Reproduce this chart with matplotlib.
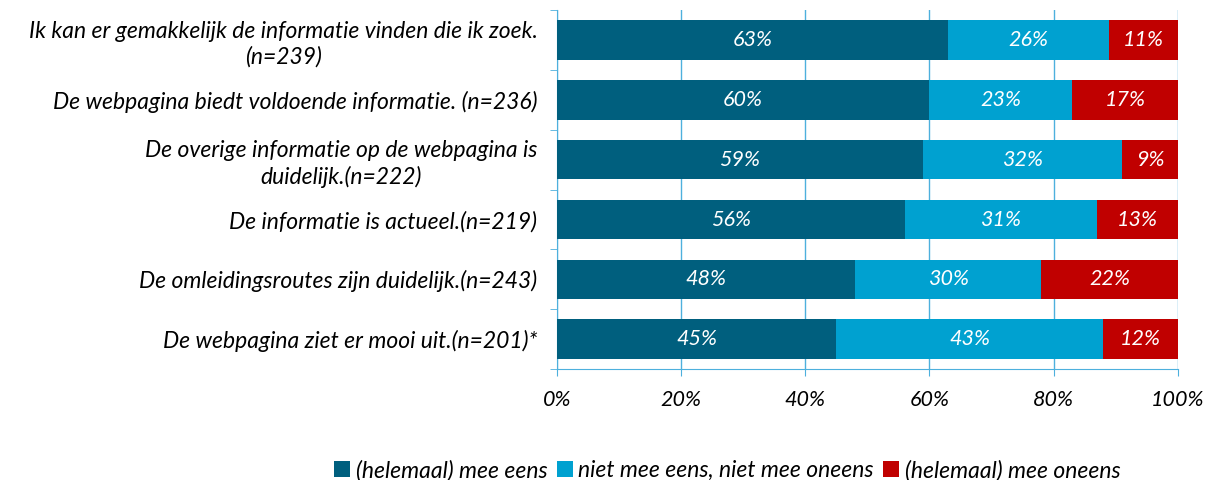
import numpy as np
import matplotlib.pyplot as plt
from matplotlib.patches import Patch

plt.rcParams["font.family"] = ["Lato", "DejaVu Sans"]

categories = [
    "Ik kan er gemakkelijk de informatie vinden die ik zoek.\n(n=239)",
    "De webpagina biedt voldoende informatie. (n=236)",
    "De overige informatie op de webpagina is\nduidelijk.(n=222)",
    "De informatie is actueel.(n=219)",
    "De omleidingsroutes zijn duidelijk.(n=243)",
    "De webpagina ziet er mooi uit.(n=201)*",
]
eens = [63, 60, 59, 56, 48, 45]
neutraal = [26, 23, 32, 31, 30, 43]
oneens = [11, 17, 9, 13, 22, 12]
series_names = ["(helemaal) mee eens", "niet mee eens, niet mee oneens", "(helemaal) mee oneens"]
colors = ["#005F7E", "#00A1D0", "#C00000"]
grid_color = "#4DB0DD"

fig = plt.figure(figsize=(12.08, 4.8), dpi=100)
ax = fig.add_axes([0.461, 0.231, 0.514, 0.748])

y = np.arange(len(categories))
left = np.zeros(len(categories))
for vals, col in zip([eens, neutraal, oneens], colors):
    vals = np.array(vals)
    ax.barh(y, vals, left=left, height=0.66, color=col, zorder=3)
    for yi, l, v in zip(y, left, vals):
        ax.text(l + v / 2, yi, f"{v}%", ha="center", va="center", color="white",
                fontsize=15.5, style="italic", zorder=4)
    left = left + vals

ax.set_xlim(0, 100)
ax.set_ylim(len(categories) - 0.5, -0.5)
ax.set_xticks(np.arange(0, 101, 20))
ax.set_xticklabels([f"{t}%" for t in range(0, 101, 20)], fontsize=15.5, style="italic")
ax.set_yticks(y)
ax.set_yticklabels(categories, fontsize=16.5, style="italic", ha="right",
                   multialignment="center", linespacing=1.25)
ax.tick_params(axis="y", length=0, pad=14)
ax.set_yticks(np.arange(-0.5, len(categories), 1), minor=True)
ax.tick_params(axis="y", which="minor", length=5, color=grid_color)
ax.tick_params(axis="x", length=5, color=grid_color, pad=10)
ax.grid(axis="x", color=grid_color, linewidth=1, zorder=0)
for s in ["top", "right"]:
    ax.spines[s].set_visible(False)
ax.spines["left"].set_color(grid_color)
ax.spines["bottom"].set_color(grid_color)

handles = [Patch(facecolor=c) for c in colors]
fig.legend(handles, series_names, loc="center", bbox_to_anchor=(0.602, 0.02),
           ncol=3, frameon=False, prop={"size": 16.5, "style": "italic"},
           handlelength=0.7, handleheight=0.7, handletextpad=0.25, columnspacing=0.4)

fig.savefig("out.png", dpi=100)
